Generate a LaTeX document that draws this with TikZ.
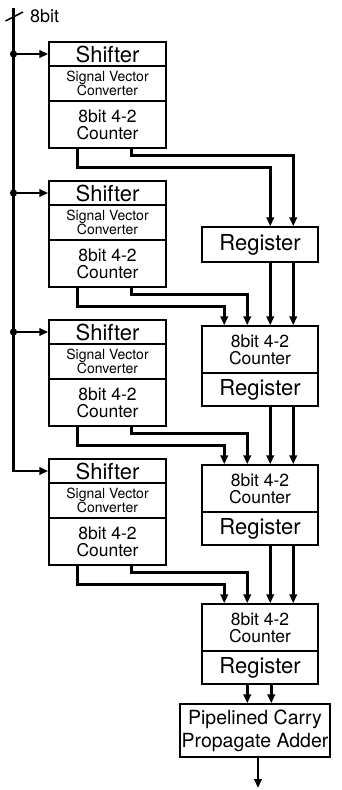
\documentclass[tikz,border=0pt]{standalone}
\usepackage{fontspec}
\setmainfont{TeX Gyre Heros}
\usetikzlibrary{arrows.meta,calc}
\begin{document}
\begin{tikzpicture}[x=1pt,y=-1pt,
  box/.style={draw, line width=1.5pt, inner sep=0pt, align=center},
  lbox/.style={box, minimum width=117pt},
  rbox/.style={box, minimum width=116pt},
  wire/.style={line width=2.6pt},
  arr/.style={wire, -{Triangle[length=9pt,width=7.5pt]}},
  big/.style={font=\fontsize{22}{24}\selectfont},
  mid/.style={font=\fontsize{17.5}{16.8}\selectfont},
  small/.style={font=\fontsize{14}{14.6}\selectfont},
  lab/.style={font=\fontsize{18}{20}\selectfont},
]
\useasboundingbox (0,0) rectangle (342,790);

% left blocks
\foreach \i/\T in {1/42,2/181,3/320,4/459} {
  \node[lbox, big, minimum height=24pt] (sh\i) at (107.5,\T+12) {Shifter};
  \node[lbox, small, minimum height=35pt] (sv\i) at (107.5,\T+41.5) {Signal Vector\\Converter};
  \node[lbox, mid, minimum height=47pt] (lc\i) at (107.5,\T+82.5) {8bit 4-2\\Counter};
}

% right blocks
\node[rbox, big, minimum height=35pt] (rg1) at (260,244.5) {Register};
\foreach \k/\R in {2/326,3/465,4/604} {
  \node[rbox, mid, minimum height=47pt] (rc\k) at (260,\R+23.5) {8bit 4-2\\Counter};
  \node[rbox, big, minimum height=33pt] (rg\k) at (260,\R+63.5) {Register};
}

% adder
\node[box, font=\fontsize{19.5}{23}\selectfont, minimum width=150pt, minimum height=53pt] (add) at (255,730.5) {Pipelined Carry\\Propagate Adder};

% input bus
\coordinate (top) at (13.5,8);
\draw[line width=1.5pt] (5.5,21) -- (23,12);
\node[lab, anchor=west, inner sep=0pt] (lbl) at (30,16) {8bit};
\draw[arr] (top) |- (sh4.west);
\foreach \i in {1,2,3} {
  \draw[arr] (top |- sh\i.west) -- (sh\i.west);
  \fill (top |- sh\i.west) circle (3.6pt);
}

% left block 1 to register 1
\draw[arr] ([xshift=83pt]lc1.south west) -- ++(0,7) -| ([xshift=92pt]rg1.north west);
\draw[arr] ([xshift=29pt]lc1.south west) -- ++(0,19) -| ([xshift=69pt]rg1.north west);

% left blocks 2-4 to right counters
\foreach \i in {2,3,4} {
  \draw[arr] ([xshift=83pt]lc\i.south west) -- ++(0,7) -| ([xshift=46pt]rc\i.north west);
  \draw[arr] ([xshift=29pt]lc\i.south west) -- ++(0,19) -| ([xshift=23pt]rc\i.north west);
}

% register to next counter
\foreach \a/\b in {1/2,2/3,3/4} {
  \draw[arr] ([xshift=69pt]rg\a.south west) -- ([xshift=69pt]rc\b.north west);
  \draw[arr] ([xshift=92pt]rg\a.south west) -- ([xshift=92pt]rc\b.north west);
}

% last register to adder
\coordinate (o1) at ([xshift=46pt]rg4.south west);
\coordinate (o2) at ([xshift=70pt]rg4.south west);
\draw[arr] (o1) -- (o1 |- add.north);
\draw[arr] (o2) -- (o2 |- add.north);

% adder output
\coordinate (out) at (258,788);
\draw[arr] (out |- add.south) -- (out);
\end{tikzpicture}
\end{document}
